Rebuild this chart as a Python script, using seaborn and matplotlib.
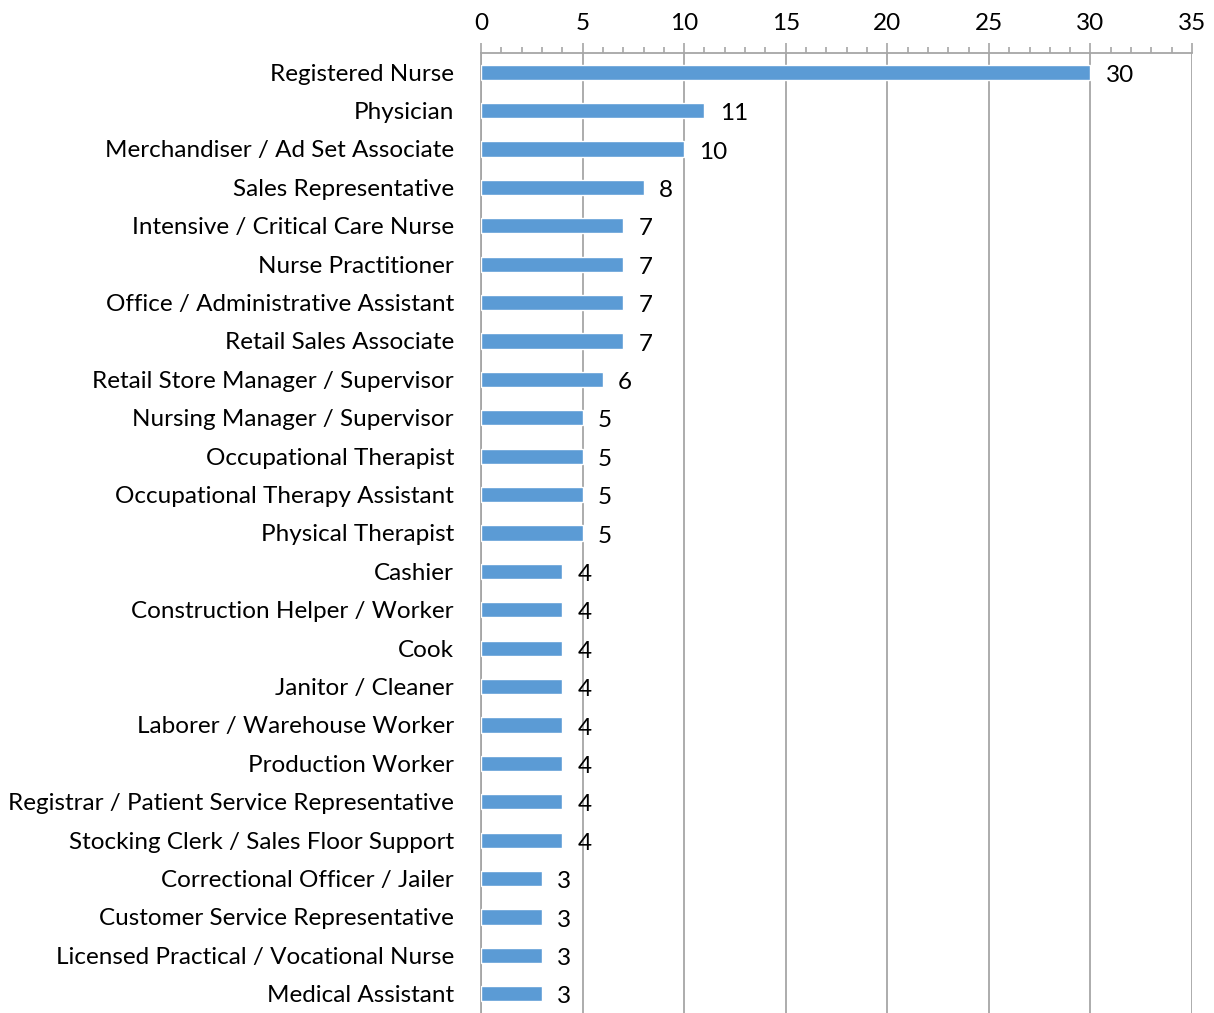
import numpy as np
import pandas as pd
import matplotlib
matplotlib.use("Agg")
import matplotlib.pyplot as plt
import seaborn as sns
from matplotlib.ticker import MultipleLocator

# Dữ liệu
jobs = [
    "Registered Nurse", "Physician", "Merchandiser / Ad Set Associate",
    "Sales Representative", "Intensive / Critical Care Nurse",
    "Nurse Practitioner", "Office / Administrative Assistant",
    "Retail Sales Associate", "Retail Store Manager / Supervisor",
    "Nursing Manager / Supervisor", "Occupational Therapist",
    "Occupational Therapy Assistant", "Physical Therapist", "Cashier",
    "Construction Helper / Worker", "Cook", "Janitor / Cleaner",
    "Laborer / Warehouse Worker", "Production Worker",
    "Registrar / Patient Service Representative",
    "Stocking Clerk / Sales Floor Support",
    "Correctional Officer / Jailer", "Customer Service Representative",
    "Licensed Practical / Vocational Nurse", "Medical Assistant",
]
counts = [30, 11, 10, 8, 7, 7, 7, 7, 6, 5, 5, 5, 5, 4, 4, 4, 4, 4, 4, 4, 4, 3, 3, 3, 3]

df = pd.DataFrame({"job": jobs, "count": counts})

sns.set_style("white")
plt.rcParams["font.family"] = ["Lato", "DejaVu Sans"]
fs = 17.5

fig = plt.figure(figsize=(12.14, 10.13), dpi=100)
ax = fig.add_axes([0.3962, 0.0, 0.5857, 0.9477])

sns.barplot(data=df, x="count", y="job", color="#5B9BD5", width=0.4,
            saturation=1, ax=ax, zorder=3)

# Nhãn giá trị
for i, v in enumerate(counts):
    ax.text(v + 0.75, i + 0.08, str(v), va="center", ha="left", fontsize=fs, color="black")

ax.set_xlim(0, 35)
ax.set_ylim(len(jobs) - 0.5, -0.5)
ax.xaxis.tick_top()
ax.xaxis.set_major_locator(MultipleLocator(5))
ax.xaxis.set_minor_locator(MultipleLocator(1))
ax.grid(axis="x", which="major", color="#A6A6A6", linewidth=1.3, zorder=0)
ax.set_axisbelow(True)

ax.set_yticks(np.arange(len(jobs)) - 0.5, minor=False)
ax.set_yticks(np.arange(len(jobs)), minor=True)
ax.set_yticklabels([], minor=False)
ax.set_yticklabels(jobs, minor=True)

ax.tick_params(axis="x", which="major", direction="out", length=7, width=1.2,
               color="#A6A6A6", labelsize=fs, labelcolor="black", pad=7)
ax.tick_params(axis="x", which="minor", direction="out", length=4, width=1.2,
               color="#A6A6A6")
ax.tick_params(axis="y", which="major", direction="out", length=6, width=1.2,
               color="#A6A6A6")
ax.tick_params(axis="y", which="minor", direction="inout", length=9, width=1.2,
               color="#A6A6A6", labelsize=fs, labelcolor="black", pad=15)

for side in ["right", "bottom"]:
    ax.spines[side].set_visible(False)
for side in ["top", "left"]:
    ax.spines[side].set_color("#A6A6A6")
    ax.spines[side].set_linewidth(1.3)

ax.set_xlabel("")
ax.set_ylabel("")

fig.savefig("out.png", dpi=100)
plt.close(fig)
